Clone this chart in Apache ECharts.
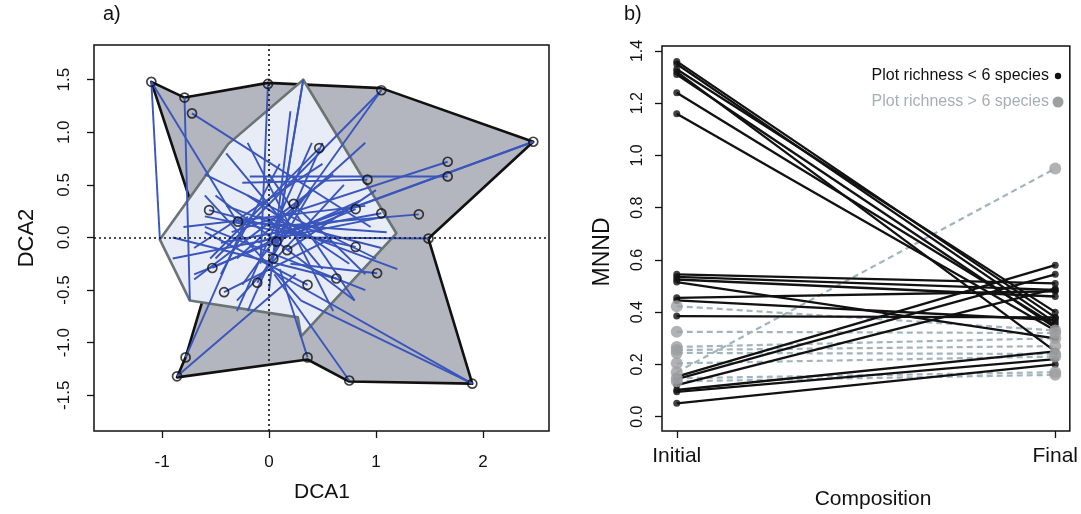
<!DOCTYPE html>
<html>
<head>
<meta charset="utf-8">
<script src="https://cdn.jsdelivr.net/npm/echarts@6/dist/echarts.min.js"></script>
<style>
html,body{margin:0;padding:0;background:#fff;}
#c{width:1081px;height:514px;}
</style>
</head>
<body>
<div id="c"></div>
<script>
// ---------- Panel a data (DCA ordination) ----------
const outerHullX = [-1.10, -0.79, -0.01, 1.05, 2.47, 1.49, 1.90, 0.75, 0.36, -0.86, -0.78, -0.53];
const outerHullY = [1.48, 1.33, 1.47, 1.42, 0.91, -0.01, -1.39, -1.37, -1.16, -1.33, -1.14, -0.29];
const innerHullX = [0.32, -0.38, -1.02, -0.74, 0.27, 0.30, 1.19];
const innerHullY = [1.50, 0.89, -0.02, -0.60, -0.76, -0.94, 0.04];
const siteX = [-1.10, -0.79, -0.72, -0.01, 1.05, 2.47, 0.47, 1.67, 1.67, 0.92, 0.23, -0.56, -0.29, 0.81, 1.05, 1.40,
               1.49, 0.07, 0.17, 0.04, 0.81, -0.53, -0.42, -0.11, 0.36, 0.63, 1.01, -0.78, -0.86, 0.36, 0.75, 1.90];
const siteY = [1.48, 1.33, 1.18, 1.46, 1.40, 0.91, 0.85, 0.72, 0.58, 0.55, 0.32, 0.26, 0.15, 0.27, 0.23, 0.22,
               -0.01, -0.04, -0.12, -0.20, -0.09, -0.29, -0.52, -0.43, -0.45, -0.39, -0.34, -1.14, -1.32, -1.14, -1.36, -1.39];
const segStartX = [-1.10, -0.79, -1.10, -0.72, -0.01, 0.04, 0.07, 1.05, 1.05, 2.47, 2.47, 0.47, 1.67, 1.67, 0.92, 0.23,
                   -0.56, -0.29, 0.81, 1.05, 1.40, 1.49, 0.81, -0.53, -0.42, -0.11, 0.36, 0.63, 1.01, -0.78, -0.86, 0.36,
                   0.75, 1.90, 1.90, 0.17, -0.60, -0.40, 0.00, -0.30, -0.20, 0.10,
                   -0.60, -0.80, -0.30, 0.50, -0.50, 0.20, -0.90, -0.20, 0.60, -0.40, 0.90, -0.70, 0.30, -0.10];
const segStartY = [1.48, 1.33, 1.48, 1.18, 1.46, -0.20, -0.04, 1.40, 1.40, 0.91, 0.91, 0.85, 0.72, 0.58, 0.55, 0.32,
                   0.26, 0.15, 0.27, 0.23, 0.22, -0.01, -0.09, -0.29, -0.52, -0.43, -0.45, -0.39, -0.34, -1.14, -1.32, -1.14,
                   -1.36, -1.39, -1.39, -0.12, 0.10, 0.80, 0.60, -0.60, 0.40, 0.70,
                   0.60, 0.10, -0.70, 0.90, 0.40, 1.20, -0.20, 0.90, 0.60, 0.30, 0.90, -0.10, -0.60, 0.20];
const segEndX   = [-1.02, -0.74, -0.30, 0.95, -0.08, 0.32, 0.32, -0.50, -0.25, -0.10, 0.15, -0.55, -0.35, -0.18, -0.25, 0.90,
                   0.60, 1.10, -0.70, -0.45, 0.00, 0.25, -0.60, 0.85, 0.60, 0.40, -0.60, -0.90, 0.20, -0.20, 0.25, 0.10,
                   0.05, 0.00, 0.30, 1.00, 0.90, 0.50, 0.80, 0.70, 0.75, -0.45,
                   1.00, 0.90, 0.40, -0.20, 0.80, 0.00, 1.10, 0.60, -0.70, 1.20, -0.30, 0.50, -0.60, 1.05];
const segEndY   = [-0.02, -0.60, 0.15, 0.10, -0.25, 1.50, 1.50, -0.20, -0.45, -0.05, 0.05, -0.20, 0.05, 0.58, 0.52, -0.35,
                   -0.05, 0.05, -0.35, -0.05, 0.10, 0.00, 0.20, 0.35, 0.00, 0.45, 0.05, 0.00, -0.25, 0.20, -0.35, -0.30,
                   -0.35, -0.30, -0.60, 0.45, -0.50, -0.30, -0.60, 0.50, -0.25, -0.35,
                   -0.20, 0.30, 0.90, -0.70, -0.60, -0.50, 0.20, -0.70, -0.40, -0.30, -0.20, 0.70, 0.40, -0.10];
const aXTicks = [-1, 0, 1, 2];
const aYTicks = [-1.5, -1.0, -0.5, 0.0, 0.5, 1.0, 1.5];

// ---------- Panel b data (MNND) ----------
const stageLabels = ['Initial', 'Final'];
const stagePos = [1, 2];
const lowInitial = [1.36, 1.35, 1.33, 1.32, 1.31, 1.24, 1.16, 0.545, 0.535, 0.525, 0.515, 0.455, 0.445, 0.385, 0.153, 0.144, 0.121, 0.102, 0.095, 0.051];
const lowFinal   = [0.38, 0.36, 0.40, 0.25, 0.34, 0.35, 0.33, 0.51, 0.485, 0.46, 0.30, 0.48, 0.37, 0.38, 0.58, 0.545, 0.49, 0.25, 0.22, 0.20];
const highInitial = [0.17, 0.423, 0.325, 0.267, 0.255, 0.244, 0.204, 0.147, 0.135];
const highFinal   = [0.95, 0.33, 0.32, 0.30, 0.27, 0.24, 0.23, 0.17, 0.16];
const bYTicks = [0.0, 0.2, 0.4, 0.6, 0.8, 1.0, 1.2, 1.4];
const legendLabels = ['Plot richness < 6 species', 'Plot richness > 6 species'];

// ---------- build ----------
const FONT = 'Liberation Sans, Arial, sans-serif';
const INK = '#111111';
const BLUE = '#3a55bb';
const GRAYPT = '#9d9fa1';
const GRAYLINE = '#a2b4bd';

const segData = segStartX.map((x, i) => [x, segStartY[i], segEndX[i], segEndY[i]]);
const siteData = siteX.map((x, i) => [x, siteY[i]]);
const lowSeg = lowInitial.map((v, i) => [stagePos[0], v, stagePos[1], lowFinal[i]]);
const highSeg = highInitial.map((v, i) => [stagePos[0], v, stagePos[1], highFinal[i]]);
const lowPts = lowInitial.map(v => [stagePos[0], v]).concat(lowFinal.map(v => [stagePos[1], v]));
const highPts = highInitial.map(v => [stagePos[0], v]).concat(highFinal.map(v => [stagePos[1], v]));

function polygonSeries(xs, ys, fill, stroke, z) {
  return {
    type: 'custom', xAxisIndex: 0, yAxisIndex: 0, z: z, silent: true,
    data: [[xs[0], ys[0]]],
    renderItem: function (params, api) {
      const pts = xs.map((x, i) => api.coord([x, ys[i]]));
      return { type: 'polygon', shape: { points: pts },
        style: { fill: fill, stroke: stroke, lineWidth: 2.6, lineJoin: 'round' } };
    }
  };
}
function segSeries(data, xi, color, width, dash, z) {
  return {
    type: 'custom', xAxisIndex: xi, yAxisIndex: xi, z: z, silent: true,
    data: data,
    dimensions: ['x1', 'y1', 'x2', 'y2'],
    encode: { x: [0, 2], y: [1, 3] },
    renderItem: function (params, api) {
      const p1 = api.coord([api.value(0), api.value(1)]);
      const p2 = api.coord([api.value(2), api.value(3)]);
      return { type: 'line', shape: { x1: p1[0], y1: p1[1], x2: p2[0], y2: p2[1] },
        style: { stroke: color, lineWidth: width, lineDash: dash || null, lineCap: 'butt' } };
    }
  };
}

const tickLabelA = { fontFamily: FONT, fontSize: 17, color: INK };
const tickStyle = { show: true, length: 7, lineStyle: { color: INK, width: 1.3 } };

const option = {
  animation: false,
  backgroundColor: '#ffffff',
  grid: [
    { left: 94, top: 45, width: 455, height: 386, show: true, borderColor: INK, borderWidth: 1.5, backgroundColor: 'transparent' },
    { left: 662, top: 46, width: 411, height: 385, show: true, borderColor: INK, borderWidth: 1.5, backgroundColor: 'transparent' }
  ],
  xAxis: [
    { type: 'value', gridIndex: 0, min: -1.636, max: 2.617, position: 'bottom',
      axisLine: { show: false, onZero: false }, splitLine: { show: false },
      axisTick: Object.assign({ customValues: aXTicks }, tickStyle),
      axisLabel: Object.assign({ margin: 23, customValues: aXTicks, formatter: v => String(v) }, tickLabelA) },
    { type: 'value', gridIndex: 1, min: 0.961, max: 2.0385, position: 'bottom',
      axisLine: { show: false, onZero: false }, splitLine: { show: false },
      axisTick: Object.assign({ customValues: stagePos }, tickStyle),
      axisLabel: { margin: 15, customValues: stagePos, fontFamily: FONT, fontSize: 21, color: INK,
        formatter: v => stageLabels[stagePos.indexOf(Math.round(v))] } }
  ],
  yAxis: [
    { type: 'value', gridIndex: 0, min: -1.84, max: 1.83, position: 'left',
      axisLine: { show: false, onZero: false }, splitLine: { show: false },
      axisTick: Object.assign({ customValues: aYTicks }, tickStyle),
      axisLabel: Object.assign({ margin: 21, rotate: 90, customValues: aYTicks, formatter: v => v.toFixed(1) }, tickLabelA) },
    { type: 'value', gridIndex: 1, min: -0.055, max: 1.419, position: 'left',
      axisLine: { show: false, onZero: false }, splitLine: { show: false },
      axisTick: Object.assign({ customValues: bYTicks }, tickStyle),
      axisLabel: { margin: 16, rotate: 90, customValues: bYTicks, fontFamily: FONT, fontSize: 16, color: INK,
        formatter: v => v.toFixed(1) } }
  ],
  series: [
    polygonSeries(outerHullX, outerHullY, '#b3b6be', INK, 1),
    polygonSeries(innerHullX, innerHullY, '#e8ecf6', '#6b7474', 2),
    Object.assign(segSeries(segData, 0, BLUE, 1.9, null, 3), {
      markLine: { silent: true, symbol: 'none', label: { show: false },
        lineStyle: { type: [2, 3], color: INK, width: 1.6 },
        data: [{ xAxis: 0 }, { yAxis: 0 }] }
    }),
    { type: 'scatter', xAxisIndex: 0, yAxisIndex: 0, z: 5, silent: true,
      symbol: 'circle', symbolSize: 9, data: siteData,
      itemStyle: { color: 'rgba(0,0,0,0)', borderColor: INK, borderWidth: 1.7 } },

    segSeries(highSeg, 1, GRAYLINE, 2.2, [6, 4], 3),
    segSeries(lowSeg, 1, INK, 2.3, null, 4),
    { type: 'scatter', xAxisIndex: 1, yAxisIndex: 1, z: 5, silent: true,
      symbol: 'circle', symbolSize: 7, data: lowPts, itemStyle: { color: INK } },
    { type: 'scatter', xAxisIndex: 1, yAxisIndex: 1, z: 6, silent: true,
      symbol: 'circle', symbolSize: 12, data: highPts, itemStyle: { color: GRAYPT } }
  ],
  graphic: [
    { type: 'text', left: 103, top: 4, style: { text: 'a)', font: '20px ' + FONT, fill: INK } },
    { type: 'text', left: 624, top: 4, style: { text: 'b)', font: '20px ' + FONT, fill: INK } },
    { type: 'text', x: 322, y: 492, style: { text: 'DCA1', font: '21px ' + FONT, fill: INK, align: 'center', verticalAlign: 'middle' } },
    { type: 'text', x: 27, y: 238, rotation: Math.PI / 2, style: { text: 'DCA2', font: '22px ' + FONT, fill: INK, align: 'center', verticalAlign: 'middle' } },
    { type: 'text', x: 873, y: 499, style: { text: 'Composition', font: '21px ' + FONT, fill: INK, align: 'center', verticalAlign: 'middle' } },
    { type: 'text', x: 603, y: 252, rotation: Math.PI / 2, style: { text: 'MNND', font: '23px ' + FONT, fill: INK, align: 'center', verticalAlign: 'middle' } },
    { type: 'text', x: 1049, y: 76, style: { text: legendLabels[0], font: '16px ' + FONT, fill: INK, align: 'right', verticalAlign: 'middle' } },
    { type: 'circle', shape: { cx: 1058, cy: 76, r: 3.2 }, style: { fill: INK } },
    { type: 'text', x: 1049, y: 102, style: { text: legendLabels[1], font: '16px ' + FONT, fill: '#a5afb4', align: 'right', verticalAlign: 'middle' } },
    { type: 'circle', shape: { cx: 1058, cy: 102, r: 5.5 }, style: { fill: GRAYPT } }
  ]
};

const chart = echarts.init(document.getElementById('c'));
chart.setOption(option);
</script>
</body>
</html>
